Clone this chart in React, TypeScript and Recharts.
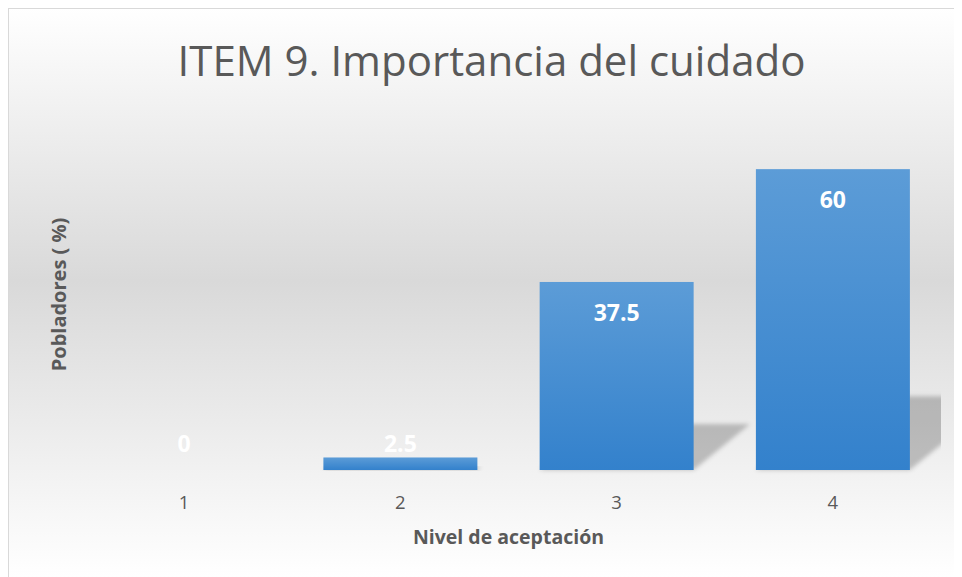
import React from 'react';
import { BarChart, Bar, XAxis, YAxis, LabelList, Label } from 'recharts';

const categories = ['1', '2', '3', '4'];
const values = [0, 2.5, 37.5, 60];
const yTicks = [0, 70];
const titleText = 'ITEM 9. Importancia del cuidado';
const xTitle = 'Nivel de aceptación';
const yTitle = 'Pobladores ( %)';

const data = categories.map((c, i) => ({ nivel: c, pobladores: values[i] }));

const W = 954;
const H = 569;
const Y_AXIS_W = 68;
const margin = { top: 111, right: 21, bottom: 0, left: 0 };
const X_AXIS_H = 107;
const TEXT = '#595959';
const FONT = '"Open Sans", "DejaVu Sans", sans-serif';

const plotLeft = margin.left + Y_AXIS_W;
const plotRight = W - margin.right;

const BarShape = (props: any) => {
  const { x, y, width, height } = props;
  if (!height || height <= 0) return null;
  const base = y + height;
  const sh = height * 0.245;
  const dx = height * 0.3;
  const pts = [
    [x, base],
    [x + width, base],
    [x + width + dx, base - sh],
    [x + dx, base - sh],
  ]
    .map((p) => p.join(','))
    .join(' ');
  return (
    <g>
      <g clipPath="url(#plotClip)">
        <polygon points={pts} fill="#000" fillOpacity={0.22} filter="url(#shadowBlur)" />
      </g>
      <rect x={x} y={y} width={width} height={height} fill="url(#barGrad)" />
    </g>
  );
};

const BarLabel = (props: any) => {
  const { x, y, width, height, value } = props;
  const cx = x + width / 2;
  const base = y + height;
  const cy = height > 60 ? y + 30 : base - 27;
  return (
    <text
      x={cx}
      y={cy}
      textAnchor="middle"
      dominantBaseline="central"
      fill="#ffffff"
      fontFamily={FONT}
      fontWeight={700}
      fontSize={23}
    >
      {value}
    </text>
  );
};

const XTick = (props: any) => {
  const { x, y, payload } = props;
  return (
    <text x={x} y={y + 39} textAnchor="middle" fill={TEXT} fontFamily={FONT} fontSize={18.5}>
      {payload.value}
    </text>
  );
};

export default function App() {
  return (
    <div style={{ position: 'relative', width: W, height: H }}>
      <style>{`body{overflow:hidden}`}</style>
      <svg
        width={W}
        height={H}
        style={{ position: 'absolute', left: 0, top: 0 }}
      >
        <defs>
          <linearGradient id="bgGrad" x1="0" y1="0" x2="0" y2="1">
            <stop offset="0" stopColor="#ffffff" />
            <stop offset="0.48" stopColor="#d9d9d9" />
            <stop offset="1" stopColor="#ffffff" />
          </linearGradient>
          <linearGradient id="barGrad" x1="0" y1="0" x2="0" y2="1">
            <stop offset="0" stopColor="#5c9cd7" />
            <stop offset="1" stopColor="#3381cc" />
          </linearGradient>
          <filter id="shadowBlur" x="-20%" y="-20%" width="140%" height="140%">
            <feGaussianBlur stdDeviation="2.2" />
          </filter>
          <clipPath id="plotClip">
            <rect x={plotLeft} y={0} width={plotRight - plotLeft} height={H} />
          </clipPath>
        </defs>
        <rect x={0} y={0} width={W} height={H} fill="url(#bgGrad)" />
        <line x1={0.5} y1={0} x2={0.5} y2={H} stroke="#d9d9d9" strokeWidth={1} />
        <line x1={0} y1={0.5} x2={W} y2={0.5} stroke="#d9d9d9" strokeWidth={1} />
        <text
          x={483.5}
          y={68}
          textAnchor="middle"
          fill={TEXT}
          fontFamily={FONT}
          fontSize={42}
        >
          {titleText}
        </text>
      </svg>
      <div style={{ position: 'absolute', left: 0, top: 0 }}>
        <BarChart width={W} height={H} data={data} margin={margin} barCategoryGap="14.4%">
          <XAxis
            dataKey="nivel"
            axisLine={false}
            tickLine={false}
            tickSize={0}
            tickMargin={0}
            height={X_AXIS_H}
            tick={<XTick />}
            interval={0}
          >
            <Label
              content={(p: any) => {
                const vb = p.viewBox || {};
                return (
                  <text
                    x={vb.x + vb.width / 2}
                    y={vb.y + 74}
                    textAnchor="middle"
                    fill={TEXT}
                    fontFamily={FONT}
                    fontWeight={700}
                    fontSize={19.5}
                  >
                    {xTitle}
                  </text>
                );
              }}
            />
          </XAxis>
          <YAxis
            width={Y_AXIS_W}
            domain={[yTicks[0], yTicks[1]]}
            ticks={yTicks}
            axisLine={false}
            tickLine={false}
            tick={false}
          >
            <Label
              content={(p: any) => {
                const vb = p.viewBox || {};
                const cx = vb.x + 50;
                const cy = vb.y + vb.height / 2;
                return (
                  <text
                    x={cx}
                    y={cy}
                    transform={`rotate(-90, ${cx}, ${cy})`}
                    textAnchor="middle"
                    dominantBaseline="central"
                    fill={TEXT}
                    fontFamily={FONT}
                    fontWeight={700}
                    fontSize={20}
                  >
                    {yTitle}
                  </text>
                );
              }}
            />
          </YAxis>
          <Bar dataKey="pobladores" isAnimationActive={false} shape={<BarShape />}>
            <LabelList dataKey="pobladores" content={<BarLabel />} />
          </Bar>
        </BarChart>
      </div>
    </div>
  );
}
